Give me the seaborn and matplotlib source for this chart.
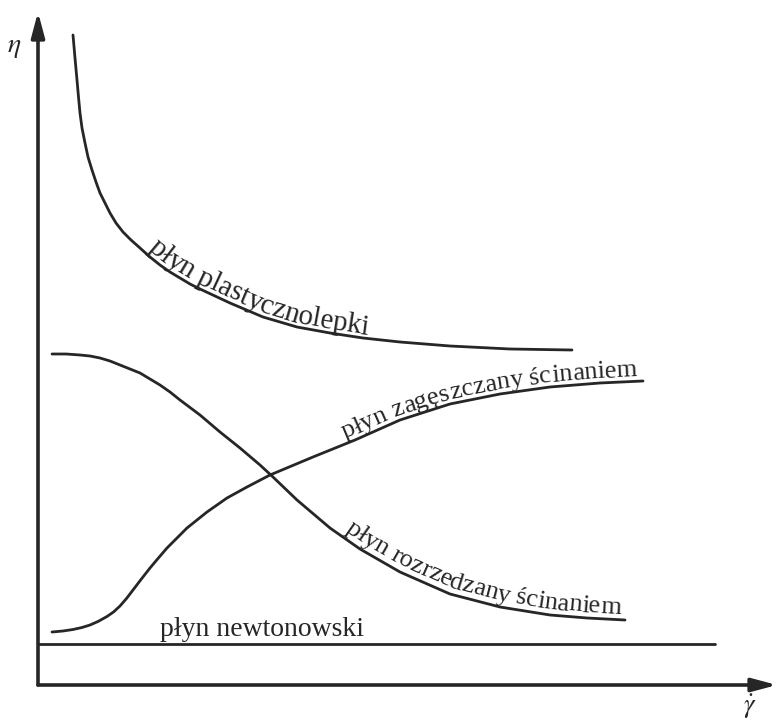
import numpy as np
import matplotlib
matplotlib.use("Agg")
import matplotlib.pyplot as plt
from matplotlib.transforms import IdentityTransform
from matplotlib.font_manager import FontProperties
import seaborn as sns

# dane (jednostki umowne, poczatek ukladu w (0, 0))
plast_x = [35, 37, 39, 40.5, 42, 44, 47, 50, 54, 58, 62, 67, 72, 78, 85, 93, 102, 112, 122, 132,
           142, 152, 162, 177, 192, 225, 259, 292, 325, 362, 412, 472, 534]
plast_y = [650, 627, 605, 588, 572, 557, 542, 528, 515, 503, 492, 482, 472, 462, 453, 445, 437, 428,
           420, 413, 407, 401, 396, 389, 382, 368, 358, 352, 347, 343, 339, 336, 335]

rozrz_x = [14, 28, 42, 52, 62, 72, 82, 92, 102, 112, 122, 132, 142, 162, 182, 202, 222, 235, 259,
           292, 322, 362, 412, 462, 512, 549, 587]
rozrz_y = [331, 331, 330, 329, 327, 324, 320, 316, 312, 306, 300, 293, 285, 270, 253, 237, 220, 208,
           185, 157, 136, 113, 91, 78, 70, 67, 65]

zag_x = [14, 25, 35, 44, 52, 60, 69, 75.5, 82, 88.5, 95, 103, 112, 120, 129, 139, 149, 159, 169,
         189, 209, 232, 275, 317, 362, 412, 462, 512, 562, 605]
zag_y = [53, 54, 55.5, 57.5, 60, 63.5, 68.5, 73, 79, 86.5, 95, 105.5, 117, 126.5, 137, 147, 157, 165, 173,
         187, 198, 210, 228, 245, 265, 281, 291, 298, 302, 304]

newton_x = [0, 677]
newton_y = [41, 41]

labels = ["płyn plastycznolepki", "płyn zagęszczany ścinaniem",
          "płyn rozrzedzany ścinaniem", "płyn newtonowski"]

LINE = "#262626"
FONT = "Liberation Serif"

sns.set_style("white")
plt.rcParams["font.family"] = [FONT, "DejaVu Serif"]
plt.rcParams["mathtext.fontset"] = "stix"

fig = plt.figure(figsize=(7.77, 7.2), dpi=100)
ax = fig.add_axes([0, 0, 1, 1])
ax.set_xlim(-38, 739)
ax.set_ylim(-35, 685)
ax.axis("off")

for xs, ys in [(plast_x, plast_y), (rozrz_x, rozrz_y), (zag_x, zag_y), (newton_x, newton_y)]:
    sns.lineplot(x=xs, y=ys, ax=ax, color=LINE, lw=2.0, sort=False, estimator=None)

# osie ze strzalkami
arrow = dict(arrowstyle="-|>,head_length=0.75,head_width=0.2", color=LINE, lw=2.6,
             mutation_scale=20, shrinkA=0, shrinkB=0)
ax.annotate("", xy=(739, 0), xytext=(0, 0), arrowprops=arrow)
ax.annotate("", xy=(0, 673), xytext=(0, 0), arrowprops=arrow)

ax.text(-24, 637, r"$\eta$", fontsize=20, ha="center", va="center", color=LINE)
ax.text(712, -22, r"$\dot{\gamma}$", fontsize=19, ha="center", va="center", color=LINE, zorder=6)

ax.text(122, 49, labels[3], fontproperties=FontProperties(family=FONT, size=20),
        va="baseline", ha="left", color=LINE)


def curved_text(xs, ys, text, x_start, offset, size):
    """Tekst wzdluz krzywej, litera po literze."""
    prop = FontProperties(family=FONT, size=size)
    fig.canvas.draw()
    renderer = fig.canvas.get_renderer()
    pts = ax.transData.transform(np.column_stack([xs, ys]))
    s = np.concatenate([[0], np.cumsum(np.hypot(np.diff(pts[:, 0]), np.diff(pts[:, 1])))])
    px0 = ax.transData.transform((x_start, 0))[0]
    pos = np.interp(px0, pts[:, 0], s)
    w_ab = renderer.get_text_width_height_descent("ab", prop, ismath=False)[0]
    w_a_b = renderer.get_text_width_height_descent("a b", prop, ismath=False)[0]
    for ch in text:
        if ch == " ":
            w = w_a_b - w_ab
        else:
            w = renderer.get_text_width_height_descent(ch, prop, ismath=False)[0]
        mid = pos + w / 2
        x1, y1 = np.interp(pos, s, pts[:, 0]), np.interp(pos, s, pts[:, 1])
        x2, y2 = np.interp(pos + w, s, pts[:, 0]), np.interp(pos + w, s, pts[:, 1])
        cx, cy = np.interp(mid, s, pts[:, 0]), np.interp(mid, s, pts[:, 1])
        dx, dy = x2 - x1, y2 - y1
        n = np.hypot(dx, dy)
        ang = np.degrees(np.arctan2(dy, dx))
        ax.text(cx - dy / n * offset, cy + dx / n * offset, ch, transform=IdentityTransform(),
                rotation=ang, rotation_mode="anchor", ha="center", va="baseline",
                fontproperties=prop, color=LINE)
        pos += w


curved_text(plast_x, plast_y, labels[0], 107, 4, 21)
curved_text(zag_x, zag_y, labels[1], 309, 5, 19)
curved_text(rozrz_x, rozrz_y, labels[2], 303, 6, 19)

fig.savefig("out.png", dpi=100)
